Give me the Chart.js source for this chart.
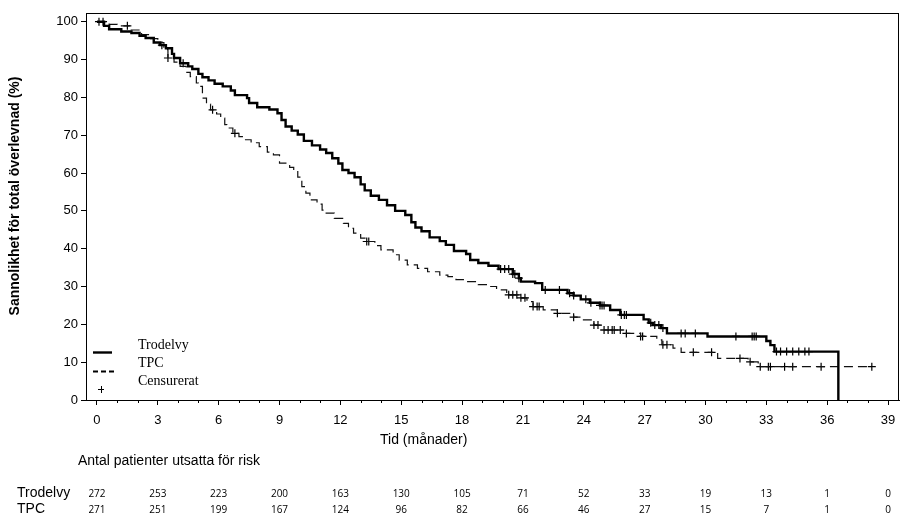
<!DOCTYPE html>
<html>
<head>
<meta charset="utf-8">
<script src="https://cdn.jsdelivr.net/npm/chart.js@4.4.1/dist/chart.umd.min.js"></script>
<style>
    html, body { margin: 0; padding: 0; background: #fff; }
    #wrap { width: 912px; height: 527px; position: relative; }
</style>
</head>
<body>
<div id="wrap"><canvas id="km"></canvas></div>
<script>
// Kaplan-Meier data (months, survival %), value after each drop
const trodelvyTime = [0, 0.35, 0.6, 1.2, 1.7, 2.1, 2.4, 2.8, 3.1, 3.4, 3.7, 3.8, 4.1, 4.5, 4.7, 5.0, 5.2, 5.5, 5.8, 6.2,
    6.6, 6.8, 7.4, 7.5, 7.9, 8.5, 8.9, 9.1, 9.3, 9.6, 9.9, 10.2, 10.6, 11.0, 11.3, 11.6, 11.9, 12.1, 12.4, 12.7,
    13.0, 13.2, 13.5, 13.9, 14.3, 14.7, 15.2, 15.5, 15.7, 16.0, 16.4, 16.9, 17.2, 17.6, 18.2, 18.4, 18.8, 19.3, 19.8, 20.5,
    20.8, 20.9, 21.6, 21.95, 23.2, 23.5, 23.85, 24.3, 24.8, 25.3, 25.8, 26.95, 27.2, 27.4, 27.8, 28.1, 30.1, 33.0, 33.2, 33.4, 36.55];
const trodelvySurv = [100, 98.9, 98.0, 97.4, 97.0, 96.3, 95.7, 94.5, 93.8, 93.0, 91.5, 90.4, 89.0, 88.2, 87.5, 86.2, 85.3, 84.5, 83.6, 82.9,
    81.8, 80.6, 79.8, 78.5, 77.4, 76.8, 75.8, 74.0, 72.3, 71.2, 70.2, 68.5, 67.3, 66.2, 65.3, 63.9, 62.5, 60.8, 60.0, 58.9,
    57.0, 55.4, 54.0, 52.9, 51.5, 50.0, 48.9, 47.0, 45.6, 44.6, 43.0, 42.0, 41.0, 39.4, 38.6, 37.0, 36.2, 35.5, 34.6, 33.3,
    32.2, 31.3, 30.9, 29.1, 28.2, 27.6, 26.6, 25.7, 25.0, 23.8, 22.5, 21.3, 20.4, 19.8, 19.0, 17.6, 16.8, 15.6, 14.5, 12.8, 0];

const tpcTime = [0, 0.6, 1.0, 1.6, 2.2, 2.6, 3.0, 3.3, 3.5, 3.8, 4.1, 4.4, 4.6, 4.9, 5.0, 5.2, 5.4, 5.6, 5.9, 6.1,
    6.3, 6.4, 6.7, 7.0, 7.2, 7.6, 8.0, 8.4, 8.7, 9.0, 9.5, 9.7, 9.9, 10.1, 10.3, 10.5, 10.85, 11.1, 11.3, 11.7,
    12.15, 12.4, 12.65, 13.0, 13.3, 13.7, 14.0, 14.6, 14.9, 15.3, 15.8, 16.3, 16.9, 17.3, 17.7, 18.2, 18.8, 19.2, 19.7, 20.2,
    20.9, 21.2, 21.5, 22.0, 22.7, 23.5, 23.85, 24.5, 24.8, 26.1, 26.8, 27.6, 27.85, 28.4, 28.8, 30.6, 32.1, 32.6, 38.2];
const tpcSurv = [100, 99.3, 98.9, 97.8, 96.6, 95.5, 94.5, 92.6, 90.4, 89.3, 88.2, 86.6, 85.5, 83.8, 82.9, 79.8, 78.2, 76.7, 75.6, 74.5,
    72.8, 71.9, 70.5, 69.6, 68.8, 68.0, 67.0, 65.5, 64.8, 62.6, 61.5, 60.8, 58.9, 56.4, 54.7, 52.9, 51.8, 50.2, 49.4, 48.0,
    46.7, 45.4, 44.1, 42.8, 41.9, 40.8, 39.7, 38.4, 37.0, 35.7, 34.8, 33.9, 33.0, 32.6, 31.8, 31.3, 30.5, 30.0, 29.1, 27.8,
    27.0, 26.0, 24.7, 23.8, 22.9, 21.9, 21.2, 19.8, 18.5, 17.6, 16.8, 15.9, 14.6, 13.7, 12.6, 11.0, 10.1, 8.8, 8.8];

// Censoring times (months)
const trodelvyCensor = [0.3, 3.2, 4.25, 19.9, 20.1, 20.3, 20.5, 20.6, 20.8, 22.1, 22.8, 23.3, 23.5, 24.1, 24.35, 24.8, 24.9, 25.0,
    25.85, 26.0, 26.1, 27.3, 27.5, 27.7, 27.9, 28.8, 29.0, 29.5, 31.5, 32.3, 32.4, 32.5, 33.5, 33.7, 34.0, 34.3, 34.6, 34.9, 35.1];
const tpcCensor = [0.1, 1.5, 3.5, 5.7, 6.8, 13.3, 13.4, 20.3, 20.5, 20.7, 20.9, 21.1, 21.5, 21.7, 21.8, 22.7, 23.5, 24.5, 24.7,
    25.0, 25.2, 25.4, 25.5, 25.8, 26.1, 26.8, 26.9, 27.9, 28.1, 29.4, 30.3, 31.7, 32.2, 32.7, 33.1, 33.2, 33.9, 34.3, 35.7, 38.2];

// Axis ticks and number at risk
const xTicks = [0, 3, 6, 9, 12, 15, 18, 21, 24, 27, 30, 33, 36, 39];
const yTicks = [0, 10, 20, 30, 40, 50, 60, 70, 80, 90, 100];
const riskTrodelvy = [272, 253, 223, 200, 163, 130, 105, 71, 52, 33, 19, 13, 1, 0];
const riskTpc = [271, 251, 199, 167, 124, 96, 82, 66, 46, 27, 15, 7, 1, 0];

const SANS = "'Liberation Sans', Arial, sans-serif";
const SERIF = "'Liberation Serif', 'Times New Roman', serif";

const toPoints = (times, surv) => times.map((t, i) => ({ x: t, y: surv[i] }));

const survivalAt = (times, surv, t) => {
    let v = surv[0];
    for (let i = 0; i < times.length; i++) {
        if (times[i] <= t) v = surv[i];
    }
    return v;
};

const censorPoints = [
    ...trodelvyCensor.map(t => ({ x: t, y: survivalAt(trodelvyTime, trodelvySurv, t) })),
    ...tpcCensor.map(t => ({ x: t, y: survivalAt(tpcTime, tpcSurv, t) }))
];

// Extras: frame, minor ticks, legend, axis titles, risk table
const kmExtras = {
    id: 'kmExtras',
    afterDraw(chart) {
        const { ctx, chartArea: a, scales: { x } } = chart;
        ctx.save();
        ctx.strokeStyle = '#000';
        ctx.lineWidth = 1;
        ctx.strokeRect(a.left + 0.5, a.top + 0.5, a.right - a.left - 1, a.bottom - a.top);

        // minor x ticks
        ctx.beginPath();
        for (let m = 0; m <= 39; m++) {
            if (m % 3 === 0) continue;
            const px = Math.round(x.getPixelForValue(m)) + 0.5;
            ctx.moveTo(px, a.bottom);
            ctx.lineTo(px, a.bottom + 3);
        }
        ctx.stroke();

        // legend
        ctx.lineWidth = 2.4;
        ctx.beginPath();
        ctx.moveTo(a.left + 7, 352.5);
        ctx.lineTo(a.left + 26, 352.5);
        ctx.stroke();
        ctx.lineWidth = 1.8;
        ctx.setLineDash([5, 3]);
        ctx.beginPath();
        ctx.moveTo(a.left + 7, 371.5);
        ctx.lineTo(a.left + 28, 371.5);
        ctx.stroke();
        ctx.setLineDash([]);
        ctx.lineWidth = 1;
        ctx.beginPath();
        ctx.moveTo(a.left + 12, 389.5);
        ctx.lineTo(a.left + 18, 389.5);
        ctx.moveTo(a.left + 15.5, 386);
        ctx.lineTo(a.left + 15.5, 393);
        ctx.stroke();

        ctx.fillStyle = '#000';
        ctx.font = `14px ${SERIF}`;
        ctx.textAlign = 'left';
        ctx.textBaseline = 'middle';
        ctx.fillText('Trodelvy', a.left + 52, 345);
        ctx.fillText('TPC', a.left + 52, 363);
        ctx.fillText('Censurerat', a.left + 52, 381);

        // x axis title
        ctx.font = `14px ${SANS}`;
        ctx.textAlign = 'left';
        ctx.fillText('Tid (månader)', 380, 440);

        // y axis title
        ctx.save();
        ctx.translate(15, 196);
        ctx.rotate(-Math.PI / 2);
        ctx.font = `bold 14px ${SANS}`;
        ctx.textAlign = 'center';
        ctx.fillText('Sannolikhet för total överlevnad (%)', 0, 0);
        ctx.restore();

        // number at risk
        ctx.font = `14px ${SANS}`;
        ctx.textAlign = 'left';
        ctx.fillText('Antal patienter utsatta för risk', 78, 461);
        ctx.fillText('Trodelvy', 17, 493);
        ctx.fillText('TPC', 17, 509);

        ctx.font = `10px 'Open Sans', ${SANS}`;
        ctx.textAlign = 'center';
        xTicks.forEach((t, i) => {
            const px = x.getPixelForValue(t);
            ctx.fillText(String(riskTrodelvy[i]), px, 494);
            ctx.fillText(String(riskTpc[i]), px, 510);
        });
        ctx.restore();
    }
};

const chart = new Chart(document.getElementById('km'), {
    type: 'line',
    data: {
        datasets: [
            {
                label: 'Trodelvy',
                data: toPoints(trodelvyTime, trodelvySurv),
                stepped: 'before',
                borderColor: '#000',
                borderWidth: 2.4,
                pointRadius: 0,
                fill: false
            },
            {
                label: 'TPC',
                data: toPoints(tpcTime, tpcSurv),
                stepped: 'before',
                borderColor: '#111',
                borderWidth: 1.2,
                borderDash: [9, 5],
                pointRadius: 0,
                fill: false
            },
            {
                label: 'Censurerat',
                data: censorPoints,
                showLine: false,
                pointStyle: 'cross',
                pointRadius: 4,
                pointBorderWidth: 1.2,
                pointBorderColor: '#000',
                borderColor: '#000'
            }
        ]
    },
    options: {
        responsive: true,
        maintainAspectRatio: false,
        animation: false,
        devicePixelRatio: 1,
        layout: { padding: { top: 13, right: 13, bottom: 75, left: 0 } },
        plugins: {
            legend: { display: false },
            tooltip: { enabled: false }
        },
        scales: {
            x: {
                type: 'linear',
                min: -0.54,
                max: 39.54,
                afterBuildTicks: scale => { scale.ticks = xTicks.map(v => ({ value: v })); },
                afterFit: scale => { scale.height = 52; },
                grid: { drawOnChartArea: false, drawTicks: true, tickLength: 5, color: '#000' },
                border: { display: true, color: '#000' },
                ticks: { color: '#000', font: { family: SANS, size: 13 }, padding: 8, maxRotation: 0 }
            },
            y: {
                type: 'linear',
                min: 0,
                max: 102.3,
                afterBuildTicks: scale => { scale.ticks = yTicks.map(v => ({ value: v })); },
                afterFit: scale => { scale.width = 86; },
                grid: { drawOnChartArea: false, drawTicks: true, tickLength: 5, color: '#000' },
                border: { display: true, color: '#000' },
                ticks: { color: '#000', font: { family: SANS, size: 13 }, padding: 3 }
            }
        }
    },
    plugins: [kmExtras]
});
</script>
</body>
</html>
